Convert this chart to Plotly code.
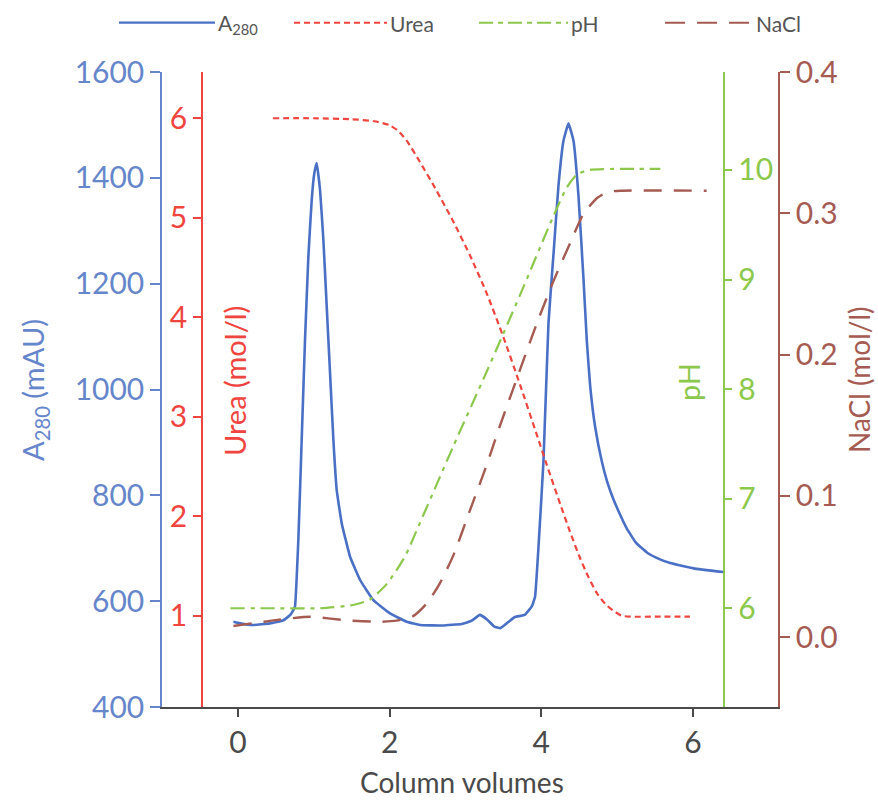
import plotly.graph_objects as go

# ---------------- data ----------------
a280_x = [-0.06, 0.03, 0.2, 0.42, 0.6, 0.69, 0.73, 0.752, 0.796, 0.84, 0.884, 0.928, 0.972, 1.007,
          1.038, 1.082, 1.126, 1.17, 1.214, 1.258, 1.302, 1.368, 1.478, 1.61, 1.785, 2.005, 2.225,
          2.4, 2.7, 2.95, 3.08, 3.19, 3.28, 3.38, 3.46, 3.56, 3.65, 3.78, 3.875, 3.918, 3.962,
          4.028, 4.094, 4.16, 4.226, 4.292, 4.358, 4.424, 4.49, 4.556, 4.6, 4.644, 4.71, 4.798,
          4.87, 4.952, 5.05, 5.128, 5.25, 5.392, 5.55, 5.7, 6.007, 6.40]
a280_y = [561, 558, 555, 558, 564, 574, 583, 590, 716, 905, 1094, 1251, 1358, 1409,
          1428, 1377, 1283, 1157, 1031, 905, 810, 747, 684, 640, 602, 577, 561,
          555, 554, 557, 563, 574, 566, 552, 549, 560, 570, 574, 590, 609, 701,
          864, 1125, 1255, 1385, 1470, 1503, 1470, 1366, 1209, 1092, 1007, 929, 864,
          825, 792, 760, 737, 710, 692, 680, 672, 662, 655]

urea_x = [0.46, 1.0, 1.5, 1.8, 2.0, 2.1, 2.22, 2.4, 2.62, 2.84, 3.06, 3.28, 3.5, 3.72, 3.94,
          4.07, 4.25, 4.38, 4.51, 4.62, 4.73, 4.84, 4.95, 5.06, 5.17, 5.5, 5.96]
urea_y = [6.0, 6.0, 5.99, 5.97, 5.93, 5.88, 5.78, 5.56, 5.27, 4.96, 4.62, 4.24, 3.8, 3.32, 2.82,
          2.52, 2.12, 1.84, 1.58, 1.39, 1.23, 1.12, 1.05, 1.0, 0.99, 0.99, 0.99]

ph_x = [-0.1, 0.5, 1.08, 1.517, 1.74, 1.96, 2.2, 2.4, 2.84, 3.28, 3.72, 4.16,
        4.336, 4.47, 4.64, 5.04, 5.57]
ph_y = [6.0, 6.0, 6.0, 6.03, 6.08, 6.22, 6.47, 6.78, 7.48, 8.16, 8.86, 9.58,
        9.84, 9.96, 10.0, 10.01, 10.01]

nacl_x = [-0.06, 0.47, 0.95, 1.43, 1.87, 2.09, 2.31, 2.49, 2.66, 2.84, 3.06, 3.28, 3.45, 3.63,
          3.94, 4.16, 4.38, 4.56, 4.74, 4.87, 5.04, 6.18]
nacl_y = [0.008, 0.012, 0.0146, 0.012, 0.011, 0.0118, 0.015, 0.024, 0.038, 0.058, 0.09, 0.122,
          0.149, 0.176, 0.222, 0.252, 0.279, 0.300, 0.311, 0.315, 0.316, 0.316]

x_ticks = [0, 2, 4, 6]
a280_ticks = [400, 600, 800, 1000, 1200, 1400, 1600]
urea_ticks = [1, 2, 3, 4, 5, 6]
ph_ticks = [6, 7, 8, 9, 10]
nacl_ticks = [0.0, 0.1, 0.2, 0.3, 0.4]

# ---------------- style ----------------
BLUE = "#4a70c6"
BLUE_T = "#6686cb"
RED = "#f0453e"
GREEN = "#8cc84b"
BROWN = "#a65b52"
GREY = "#4a4a4a"
FONT = "Lato"

W, H = 878, 800
ML, MR, MT, MB = 162, 100, 72, 93
PW, PH = W - ML - MR, H - MT - MB


def px_x(p):
    return (p - ML) / PW


def px_y(p):
    return (H - MB - p) / PH


fig = go.Figure()
fig.add_trace(go.Scatter(x=a280_x, y=a280_y, mode="lines", name="A280",
                         line=dict(color=BLUE, width=2.6, shape="spline", smoothing=0.3),
                         yaxis="y"))
fig.add_trace(go.Scatter(x=urea_x, y=urea_y, mode="lines", name="Urea",
                         line=dict(color=RED, width=2.2, dash="6px,4px", shape="spline", smoothing=0.6),
                         yaxis="y2"))
fig.add_trace(go.Scatter(x=ph_x, y=ph_y, mode="lines", name="pH",
                         line=dict(color=GREEN, width=2.2, dash="14px,6px,4px,6px", shape="spline", smoothing=0.6),
                         yaxis="y3"))
fig.add_trace(go.Scatter(x=nacl_x, y=nacl_y, mode="lines", name="NaCl",
                         line=dict(color=BROWN, width=2.4, dash="18px,12px", shape="spline", smoothing=0.6),
                         yaxis="y4"))

fig.update_layout(
    width=W, height=H,
    margin=dict(l=ML, r=MR, t=MT, b=MB, autoexpand=False),
    paper_bgcolor="white", plot_bgcolor="white",
    showlegend=False,
    font=dict(family=FONT),
    xaxis=dict(domain=[0, 1], range=[-1.002, 7.121], tickvals=x_ticks,
               showline=True, linecolor=GREY, linewidth=1.5,
               ticks="outside", ticklen=8, tickwidth=1.5, tickcolor=GREY,
               tickfont=dict(family=FONT, size=30, color=GREY),
               showgrid=False, zeroline=False),
    yaxis=dict(range=[400, 1600], tickvals=a280_ticks, side="left", anchor="x",
               showline=True, linecolor=BLUE_T, linewidth=1.5,
               ticks="outside", ticklen=10, tickwidth=1.5, tickcolor=BLUE_T,
               tickfont=dict(family=FONT, size=30, color=BLUE_T),
               showgrid=False, zeroline=False),
    yaxis2=dict(range=[0.082, 6.465], tickvals=urea_ticks, overlaying="y", side="left",
                anchor="free", position=px_x(202),
                showline=True, linecolor=RED, linewidth=1.5,
                ticks="outside", ticklen=8, tickwidth=1.5, tickcolor=RED,
                tickfont=dict(family=FONT, size=30, color=RED),
                showgrid=False, zeroline=False),
    yaxis3=dict(range=[5.099, 10.894], tickvals=ph_ticks, overlaying="y", side="right",
                anchor="free", position=px_x(723.5),
                showline=True, linecolor=GREEN, linewidth=1.5,
                ticks="outside", ticklen=8, tickwidth=1.5, tickcolor=GREEN,
                tickfont=dict(family=FONT, size=30, color=GREEN),
                showgrid=False, zeroline=False),
    yaxis4=dict(range=[-0.0493, 0.4], tickvals=nacl_ticks, tickformat=".1f", overlaying="y",
                side="right", anchor="x",
                showline=True, linecolor=BROWN, linewidth=1.5,
                ticks="outside", ticklen=10, tickwidth=1.5, tickcolor=BROWN,
                tickfont=dict(family=FONT, size=30, color=BROWN),
                showgrid=False, zeroline=False),
)

# axis titles
ann = []
ann.append(dict(text="A<sub>280</sub> (mAU)", x=px_x(34), y=px_y(390), textangle=-90,
                font=dict(family=FONT, size=29, color=BLUE_T)))
ann.append(dict(text="Urea (mol/l)", x=px_x(234), y=px_y(381), textangle=-90,
                font=dict(family=FONT, size=29, color=RED)))
ann.append(dict(text="pH", x=px_x(688), y=px_y(382), textangle=-90,
                font=dict(family=FONT, size=29, color=GREEN)))
ann.append(dict(text="NaCl (mol/l)", x=px_x(859), y=px_y(380), textangle=-90,
                font=dict(family=FONT, size=28, color=BROWN)))
ann.append(dict(text="Column volumes", x=px_x(462), y=px_y(782),
                font=dict(family=FONT, size=28, color=GREY)))
for a in ann:
    a.update(xref="paper", yref="paper", showarrow=False, xanchor="center", yanchor="middle")

# manual legend
legend_items = [
    ("A<sub>280</sub>", BLUE, "solid", 119, 215, 2.2),
    ("Urea", RED, "6px,4px", 294, 387, 2.0),
    ("pH", GREEN, "14px,5px,5px,5px", 479, 568, 2.0),
    ("NaCl", BROWN, "20px,12px", 665, 753, 2.0),
]
shapes = []
LY = 22.7
for label, col, dash, x0, x1, wdt in legend_items:
    shapes.append(dict(type="line", xref="paper", yref="paper",
                       x0=px_x(x0), x1=px_x(x1), y0=px_y(LY), y1=px_y(LY),
                       line=dict(color=col, width=wdt, dash=dash)))
    ann.append(dict(text=label, xref="paper", yref="paper", x=px_x(x1 + 1), y=px_y(LY + 1),
                    xanchor="left", yanchor="middle", showarrow=False,
                    font=dict(family=FONT, size=21, color="#555555")))

fig.update_layout(annotations=ann, shapes=shapes)

fig.write_html("out.html")
